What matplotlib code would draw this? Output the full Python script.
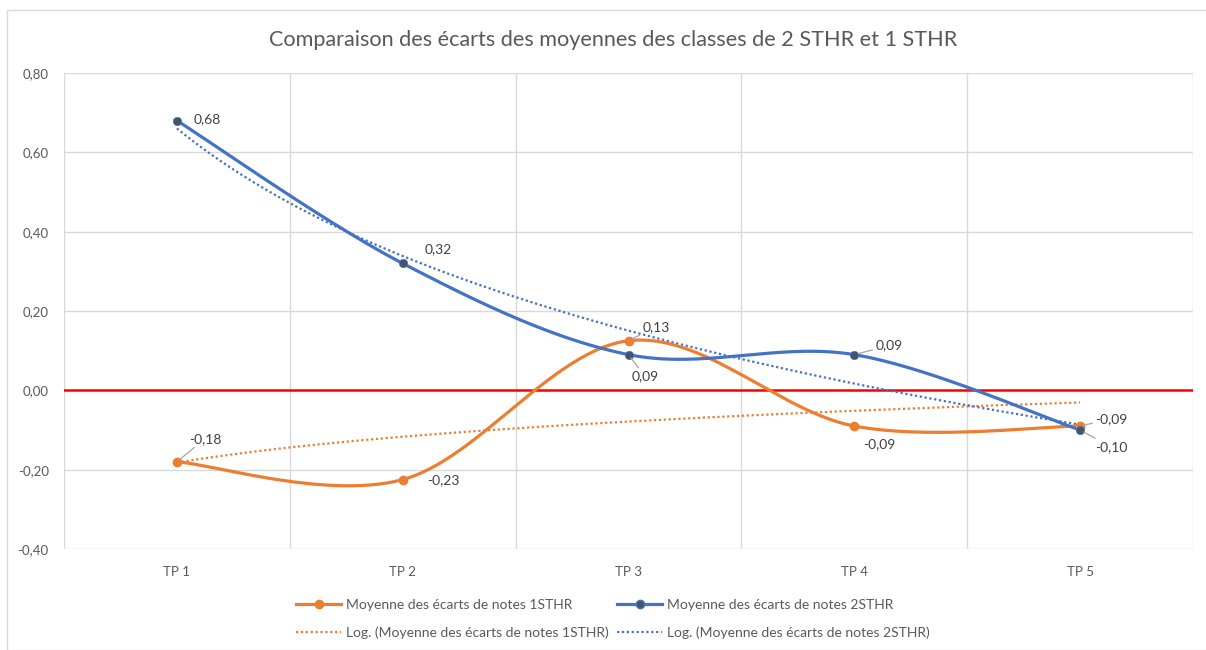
import numpy as np
import matplotlib
matplotlib.use("Agg")
import matplotlib.pyplot as plt
from matplotlib.lines import Line2D
from matplotlib.patches import Rectangle

plt.rcParams['font.family'] = ['Lato', 'DejaVu Sans']

categories = ["TP 1", "TP 2", "TP 3", "TP 4", "TP 5"]
s1_name = "Moyenne des écarts de notes 1STHR"
s2_name = "Moyenne des écarts de notes 2STHR"
s1 = [-0.18, -0.225, 0.125, -0.09, -0.09]
s2 = [0.68, 0.32, 0.09, 0.09, -0.10]
s1_labels = ["-0,18", "-0,23", "0,13", "-0,09", "-0,09"]
s2_labels = ["0,68", "0,32", "0,09", "0,09", "-0,10"]
yticks = [-0.40, -0.20, 0.00, 0.20, 0.40, 0.60, 0.80]
title = "Comparaison des écarts des moyennes des classes de 2 STHR et 1 STHR"

ORANGE = "#ED7D31"
BLUE = "#4472C4"
TXT = "#595959"


def smooth(x, y, n=60):
    x = np.asarray(x, float)
    y = np.asarray(y, float)
    P = np.column_stack([x, y])
    out = []
    m = len(P)
    for i in range(m - 1):
        p0 = P[i - 1] if i > 0 else P[i]
        p1 = P[i]
        p2 = P[i + 1]
        p3 = P[i + 2] if i + 2 < m else P[i + 1]
        c1 = p1 + (p2 - p0) / 6
        c2 = p2 - (p3 - p1) / 6
        t = np.linspace(0, 1, n)[:, None]
        seg = ((1 - t) ** 3) * p1 + 3 * ((1 - t) ** 2) * t * c1 + 3 * (1 - t) * t ** 2 * c2 + t ** 3 * p2
        out.append(seg if i == 0 else seg[1:])
    arr = np.vstack(out)
    return arr[:, 0], arr[:, 1]


fig = plt.figure(figsize=(12.06, 6.5), dpi=100)
fig.patches.append(Rectangle((7 / 1206, 0), 1 - 7 / 1206 + 0.01, 1 - 10 / 650, transform=fig.transFigure,
                             fill=False, edgecolor="#D9D9D9", linewidth=1))
ax = fig.add_axes([64 / 1206, 1 - 549 / 650, (1193 - 64) / 1206, (549 - 73) / 650])

x = np.arange(1, len(categories) + 1)

# trendlines (logarithmic fit)
xt = np.linspace(1, 5, 100)
for ys, col in [(s1, ORANGE), (s2, BLUE)]:
    a, b = np.polyfit(np.log(x), ys, 1)
    ax.plot(xt, a * np.log(xt) + b, color=col, lw=1.6, ls=(0, (1, 1.2)), zorder=3)

ax.axhline(0, color="#FF0000", lw=1.8, zorder=2)

sx, sy = smooth(x, s1)
ax.plot(sx, sy, color=ORANGE, lw=2.3, zorder=4, solid_capstyle="round")
ax.plot(x, s1, 'o', color=ORANGE, ms=6, zorder=5)
sx, sy = smooth(x, s2)
ax.plot(sx, sy, color=BLUE, lw=2.3, zorder=4, solid_capstyle="round")
ax.plot(x, s2, 'o', color="#44546A", mec=BLUE, mew=0.5, ms=6, zorder=6)

ax.set_xlim(0.5, 5.5)
ax.set_ylim(-0.40, 0.80)
ax.set_yticks(yticks)
ax.set_yticklabels([f"{v:.2f}".replace(".", ",") for v in yticks])
ax.set_xticks(x)
ax.set_xticklabels(categories)
ax.set_xticks(np.arange(0.5, 6.0, 1.0), minor=True)
ax.tick_params(axis="both", which="both", length=0, colors=TXT, labelsize=9.5)
ax.tick_params(axis="y", pad=11)
ax.tick_params(axis="x", pad=12)
ax.grid(axis="y", which="major", color="#D9D9D9", lw=1)
ax.grid(axis="x", which="minor", color="#D9D9D9", lw=1)
ax.grid(axis="x", which="major", visible=False)
for sp in ax.spines.values():
    sp.set_visible(False)
ax.set_axisbelow(True)

LBL = "#404040"
lead = dict(arrowstyle="-", color="#A6A6A6", lw=0.9, shrinkA=0, shrinkB=3)


def lab(i, ys, txt, dx, dy, leader=False, ha="left", va="center"):
    kw = dict(textcoords="offset pixels", fontsize=10, color=LBL, ha=ha, va=va, zorder=7)
    if leader:
        kw["arrowprops"] = lead
    ax.annotate(txt, (x[i], ys[i]), xytext=(dx, dy), **kw)


lab(0, s2, s2_labels[0], 17, 1)
lab(1, s2, s2_labels[1], 22, 14)
lab(2, s2, s2_labels[2], 3, -22, leader=True, ha="left")
lab(3, s2, s2_labels[3], 21, 9, leader=True)
lab(4, s2, s2_labels[4], 15, -17, leader=True)
lab(0, s1, s1_labels[0], 12, 23, leader=True)
lab(1, s1, s1_labels[1], 24, -1)
lab(2, s1, s1_labels[2], 14, 14, leader=True)
lab(3, s1, s1_labels[3], 9, -18)
lab(4, s1, s1_labels[4], 15, 7, leader=True)

ax.text(613 / 1206, 1 - 40 / 650, title, transform=fig.transFigure, ha="center", va="center",
        fontsize=15.6, color=TXT)

handles = [
    Line2D([], [], color=ORANGE, lw=2.3, marker='o', ms=6),
    Line2D([], [], color=ORANGE, lw=1.6, ls=(0, (1, 1.2))),
    Line2D([], [], color=BLUE, lw=2.3, marker='o', ms=6, mfc="#44546A", mec=BLUE),
    Line2D([], [], color=BLUE, lw=1.6, ls=(0, (1, 1.2))),
]
labels = [s1_name, "Log. (" + s1_name + ")", s2_name, "Log. (" + s2_name + ")"]
leg = fig.legend(handles, labels, loc="center", bbox_to_anchor=(613 / 1206, 1 - 619 / 650), ncol=2,
                 frameon=False, fontsize=10, handlelength=3.25, handletextpad=0.36, columnspacing=0.58,
                 labelspacing=1.1, labelcolor=TXT, borderpad=0.2)

fig.savefig("out.png", dpi=100, facecolor="white")
